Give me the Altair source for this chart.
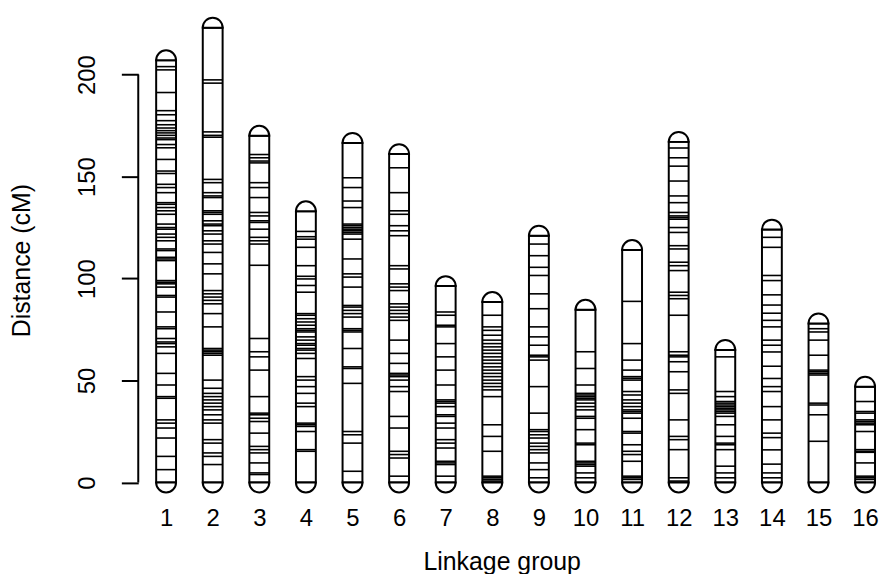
import altair as alt
import pandas as pd

groups = list(range(1, 17))
lengths = [207, 223, 170, 133, 166.5, 161, 96.3, 88.5, 121, 84.7, 114, 167, 65, 124, 78, 47]

lg1 = [203.9, 202.3, 191.2, 182.3, 180.3, 177.4, 175.4, 173.8, 172.5, 171.4, 170.2, 168.9, 168.1, 165.7, 164.1,
       158.4, 152.7, 151.5, 146.2, 144.6, 142.1, 137.2, 136.4, 134.8, 133.2, 131.5, 126.7, 125.0, 124.2, 121.8,
       120.2, 118.5, 114.5, 113.7, 110.4, 109.6, 108.8, 99.0, 98.2, 97.4, 95.8, 91.7, 90.9, 83.6, 76.3, 75.4,
       70.6, 68.9, 68.1, 66.5, 63.3, 53.5, 47.8, 42.1, 41.3, 30.7, 29.1, 26.7, 21.8, 12.8, 6.3]
lg2 = [197.4, 195.8, 171.9, 170.2, 169.3, 148.6, 147.0, 142.1, 140.5, 139.7, 133.2, 132.4, 131.5, 128.3, 126.7,
       125.9, 123.4, 121.8, 118.5, 116.9, 112.8, 107.2, 102.3, 94.1, 92.5, 90.9, 89.3, 87.6, 82.8, 76.3, 65.7,
       64.9, 64.1, 63.3, 62.4, 50.2, 46.2, 43.7, 42.1, 40.5, 38.9, 37.2, 35.6, 33.2, 30.7, 29.1, 21.0, 19.3,
       14.5, 12.8, 8.8]
lg3 = [160.8, 159.2, 157.6, 156.7, 147.0, 144.6, 139.7, 132.4, 130.7, 128.3, 127.5, 124.2, 120.2, 118.5, 116.9,
       106.5, 70.6, 64.1, 61.6, 55.1, 42.1, 34.0, 33.2, 31.5, 29.9, 24.2, 17.7, 16.1, 14.5, 9.6, 4.7, 3.9]
lg4 = [123.1, 120.5, 119.3, 115.3, 106.3, 101.1, 99.8, 96.6, 93.3, 82.8, 82.0, 80.3, 78.7, 77.1, 75.4, 74.6,
       73.8, 71.4, 69.8, 68.1, 67.3, 65.7, 64.9, 63.3, 60.8, 51.9, 50.2, 47.0, 43.7, 38.9, 37.2, 29.1, 28.3,
       27.5, 25.0, 16.1, 15.3]
lg5 = [149.4, 144.6, 138.0, 134.8, 126.7, 125.9, 125.0, 124.2, 123.4, 122.6, 121.8, 119.3, 109.6, 102.3, 100.7,
       95.8, 86.8, 86.0, 84.4, 82.8, 81.1, 75.4, 74.6, 73.8, 65.7, 56.7, 55.9, 48.6, 25.0, 23.4, 19.3, 5.5]
lg6 = [154.3, 142.1, 133.2, 131.5, 125.9, 123.4, 121.0, 106.3, 104.7, 97.4, 95.8, 94.1, 87.6, 86.0, 84.4, 82.8,
       81.1, 79.5, 69.8, 63.3, 58.4, 53.5, 52.7, 51.9, 50.2, 47.0, 44.6, 32.4, 26.7, 15.3, 13.7, 12.0, 3.1]
lg7 = [83.6, 82.0, 77.1, 76.3, 68.1, 61.6, 55.1, 47.8, 40.5, 39.7, 38.9, 37.2, 33.2, 32.4, 29.1, 26.7, 21.0,
       19.3, 16.9, 10.4, 9.6, 8.8, 3.1]
lg8 = [82.0, 76.3, 74.6, 72.2, 69.8, 68.1, 66.5, 64.9, 63.3, 61.6, 60.0, 58.4, 56.7, 55.1, 53.5, 51.9, 50.2,
       48.6, 47.0, 45.4, 42.1, 28.3, 22.6, 15.3, 3.1, 2.3, 1.5, 0.7]
lg9 = [116.9, 111.2, 105.5, 101.5, 92.5, 85.2, 76.3, 71.4, 67.3, 62.4, 61.6, 60.0, 47.0, 34.0, 25.9, 25.0, 23.4,
       21.8, 19.3, 17.7, 16.1, 14.5, 9.6, 6.3, 2.3]
lg10 = [64.1, 55.9, 47.8, 43.7, 42.9, 42.1, 41.3, 40.5, 38.9, 37.2, 35.6, 32.4, 31.5, 25.9, 19.3, 18.5, 10.4,
        9.6, 8.8, 8.0, 4.7, 2.3]
lg11 = [88.8, 68.1, 60.0, 55.1, 51.9, 51.1, 50.2, 44.6, 42.9, 40.5, 38.9, 37.2, 35.6, 34.8, 34.0, 31.5, 25.0,
        24.2, 18.5, 15.3, 13.7, 10.4, 3.1, 2.3, 1.5]
lg12 = [164.0, 159.2, 155.1, 147.8, 140.5, 137.2, 132.4, 130.7, 129.9, 129.1, 125.0, 122.6, 116.1, 114.5, 108.0,
        106.3, 103.9, 93.3, 91.7, 90.1, 82.0, 64.1, 62.4, 61.6, 59.2, 54.3, 45.4, 43.7, 30.7, 22.6, 21.0, 16.1,
        2.3, 0.7]
lg13 = [61.6, 44.6, 42.1, 39.7, 38.9, 38.0, 37.2, 36.4, 35.6, 34.8, 34.0, 32.4, 28.3, 22.6, 19.3, 18.5, 16.1,
        8.0, 4.7, 2.3]
lg14 = [120.2, 115.3, 101.5, 99.0, 92.0, 87.0, 83.0, 79.5, 76.3, 69.8, 67.3, 64.0, 57.0, 51.0, 47.0, 44.6,
        37.2, 30.7, 24.2, 22.0, 16.0, 9.0, 4.7, 2.3]
lg15 = [75.4, 73.8, 69.8, 62.4, 55.1, 54.3, 53.5, 52.7, 38.9, 38.0, 33.2, 20.2]
lg16 = [39.7, 34.8, 34.0, 30.7, 29.9, 29.1, 28.3, 25.0, 16.1, 15.3, 14.8, 9.6, 3.1, 2.3, 1.5]

markers = [lg1, lg2, lg3, lg4, lg5, lg6, lg7, lg8, lg9, lg10, lg11, lg12, lg13, lg14, lg15, lg16]
y_ticks = [0, 50, 100, 150, 200]

HW = 0.213  # half width of a chromosome in group units

chrom_df = pd.DataFrame({
    "lg": groups,
    "len": lengths,
    "x1": [g - HW for g in groups],
    "x2": [g + HW for g in groups],
    "zero": [0] * len(groups),
})
rows = []
for g, pos in zip(groups, markers):
    for p in pos:
        rows.append({"lg": g, "pos": p, "x1": g - HW, "x2": g + HW})
mark_df = pd.DataFrame(rows)

FONT = "Liberation Sans"
FS = 24
xscale = alt.Scale(domain=[0.4026, 16.0], nice=False, zero=False)
yscale = alt.Scale(domain=[-8, 226], nice=False, zero=False)

base = alt.Chart(chrom_df)

rects = base.mark_rect(fill="white", stroke="black", strokeWidth=2).encode(
    x=alt.X("x1:Q", scale=xscale,
            axis=alt.Axis(values=groups, format="d", title="Linkage group", domain=False,
                          ticks=False, grid=False, labelFontSize=FS, titleFontSize=25,
                          labelFont=FONT, titleFont=FONT, titleFontWeight="normal",
                          labelPadding=8, titlePadding=19, labelColor="black", titleColor="black",
                          labelFlush=False, labelOverlap=False)),
    x2="x2:Q",
    y=alt.Y("zero:Q", scale=yscale,
            axis=alt.Axis(values=y_ticks, title="Distance (cM)", domain=False, grid=False,
                          tickSize=17, tickWidth=2, tickColor="black", labelAngle=270,
                          labelAlign="center", labelBaseline="alphabetic", labelPadding=27,
                          labelFontSize=FS, titleFontSize=25, labelFont=FONT, titleFont=FONT,
                          titleFontWeight="normal", titlePadding=41,
                          labelColor="black", titleColor="black")),
    y2="len:Q",
)

rules = alt.Chart(mark_df).mark_rule(color="black", strokeWidth=1.6).encode(
    x=alt.X("x1:Q", scale=xscale),
    x2="x2:Q",
    y=alt.Y("pos:Q", scale=yscale),
)

top_caps = base.mark_arc(fill="white", stroke="black", strokeWidth=2, radius=10,
                         theta=4.7124, theta2=7.8540).encode(
    x=alt.X("lg:Q", scale=xscale),
    y=alt.Y("len:Q", scale=yscale),
)
bot_caps = base.mark_arc(fill="white", stroke="black", strokeWidth=2, radius=10,
                         theta=1.5708, theta2=4.7124).encode(
    x=alt.X("lg:Q", scale=xscale),
    y=alt.Y("zero:Q", scale=yscale),
)

axis_line = alt.Chart(pd.DataFrame({"a": [0], "b": [200]})).mark_rule(
    color="black", strokeWidth=2).encode(
    x=alt.value(0),
    y=alt.Y("a:Q", scale=yscale),
    y2="b:Q",
)

chart = alt.layer(rects, rules, top_caps, bot_caps, axis_line).properties(
    width=731, height=480,
    autosize=alt.AutoSizeParams(type="none"),
    padding={"left": 131, "top": 12, "right": 16, "bottom": 74},
).configure(background="white").configure_view(strokeWidth=0, stroke="transparent")

chart.save("out.html", embed_options={"renderer": "svg", "actions": False})
